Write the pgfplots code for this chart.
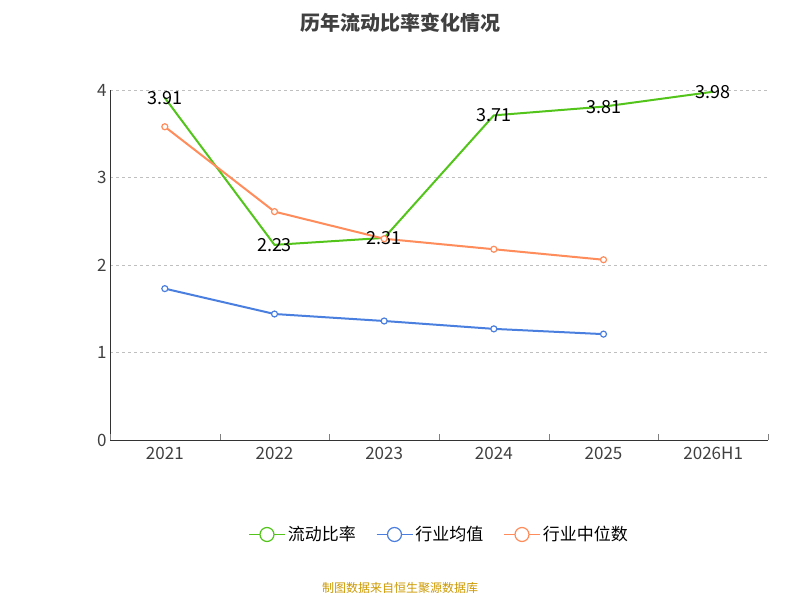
\documentclass[border=0pt]{standalone}
\usepackage{pgfplots}
\pgfplotsset{compat=1.18}
\usepackage{fontspec}
\setmainfont{Noto Sans CJK SC}
\definecolor{cg}{HTML}{52C41A}
\definecolor{cb}{HTML}{4A7FE0}
\definecolor{co}{HTML}{FF8C5A}
\begin{document}
\begin{tikzpicture}
\path[use as bounding box] (0,0) rectangle (800pt,600pt);
\begin{axis}[at={(110pt,160pt)},anchor=south west,width=658pt,height=350pt,scale only axis,
 xmin=-0.5,xmax=5.5,ymin=0,ymax=4,ytick={0,1,2,3,4},
 xtick={0,...,5},xticklabels={2021,2022,2023,2024,2025,2026H1},
 extra x ticks={-0.5,0.5,1.5,2.5,3.5,4.5,5.5},extra x tick labels={},
 extra x tick style={grid=none,major tick length=6pt},
 major tick length=0pt,
 axis x line*=bottom,axis y line*=left,
 ymajorgrids,grid style={dashed,gray!50,line width=0.8pt},
 x axis line style={-,black!80,line width=0.8pt},y axis line style={-,black!80,line width=0.8pt},
 ytick style={black!80},
 tick label style={font=\fontsize{17}{20}\selectfont,text=black!75},
 xticklabel style={yshift=-4pt},
 /pgf/number format/assume math mode=true,
 legend style={at={(0.5,-0.27)},anchor=center,draw=none,legend columns=3,font=\fontsize{17}{20}\selectfont,/tikz/every even column/.append style={column sep=18pt}},
 legend image code/.code={\draw[#1,line width=1.5pt](0pt,0pt)--(36pt,0pt);\draw[#1,fill=white,line width=1.2pt](18pt,0pt) circle(7pt);}
]
\addplot[cg,line width=2pt,mark=none,nodes near coords,point meta=explicit symbolic,every node near coord/.style={text=black,font=\fontsize{18}{20}\selectfont,anchor=center}] coordinates {(0,3.91)[3.91] (1,2.23)[2.23] (2,2.31)[2.31] (3,3.71)[3.71] (4,3.81)[3.81] (5,3.98)[3.98]};
\addlegendentry{流动比率}
\addplot[cb,line width=2pt,mark=*,mark options={fill=white,line width=1.2pt},mark size=3pt] coordinates {(0,1.73)(1,1.44)(2,1.36)(3,1.27)(4,1.21)};
\addlegendentry{行业均值}
\addplot[co,line width=2pt,mark=*,mark options={fill=white,line width=1.2pt},mark size=3pt] coordinates {(0,3.58)(1,2.61)(2,2.30)(3,2.18)(4,2.06)};
\addlegendentry{行业中位数}
\end{axis}
\node[font=\bfseries\fontsize{20}{24}\selectfont,text=black!75] at (400pt,577pt) {历年流动比率变化情况};
\node[font=\fontsize{12}{14}\selectfont,text={rgb,255:red,204;green,153;blue,0}] at (400pt,12pt) {制图数据来自恒生聚源数据库};
\end{tikzpicture}
\end{document}
